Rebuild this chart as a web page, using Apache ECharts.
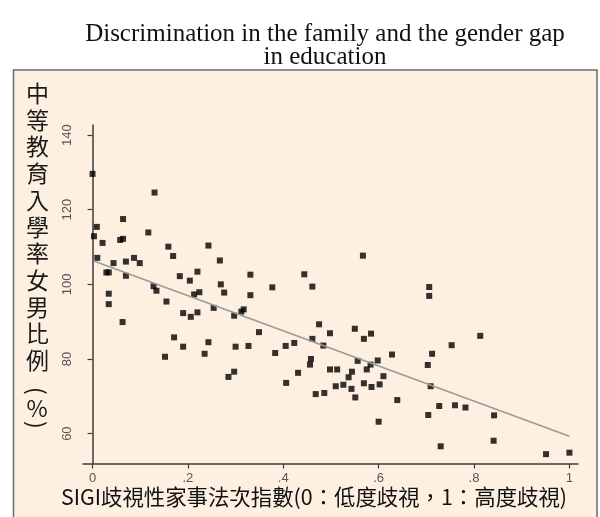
<!DOCTYPE html>
<html>
<head>
<meta charset="utf-8">
<script src="https://cdn.jsdelivr.net/npm/echarts@6/dist/echarts.min.js"></script>
<style>
  html, body { margin: 0; padding: 0; background: #fff; }
  #main { width: 600px; height: 517px; }
</style>
</head>
<body>
<div id="main"></div>
<script>
// SIGI index (x) and secondary enrolment ratio girls/boys in % (y)
var sigi = [
  0.000, 0.130, 0.064, 0.009, 0.003, 0.117, 0.064, 0.058, 0.021, 0.159,
  0.243, 0.169, 0.010, 0.087, 0.267, 0.044, 0.070, 0.099, 0.029, 0.034,
  0.220, 0.070, 0.183, 0.204, 0.331, 0.444, 0.461, 0.269, 0.276, 0.377,
  0.331, 0.128, 0.134, 0.034, 0.213, 0.224, 0.034, 0.063, 0.155, 0.190,
  0.206, 0.220, 0.254, 0.297, 0.312, 0.317, 0.349, 0.171, 0.190, 0.152,
  0.243, 0.235, 0.300, 0.327, 0.383, 0.405, 0.423, 0.406, 0.431, 0.297,
  0.285, 0.475, 0.461, 0.458, 0.456, 0.468, 0.486, 0.498, 0.484, 0.498,
  0.567, 0.706, 0.706, 0.550, 0.569, 0.584, 0.556, 0.598, 0.583, 0.575,
  0.513, 0.544, 0.537, 0.526, 0.510, 0.543, 0.551, 0.569, 0.585, 0.602,
  0.610, 0.628, 0.639, 0.600, 0.712, 0.703, 0.709, 0.704, 0.727, 0.760,
  0.782, 0.753, 0.813, 0.842, 0.730, 0.841, 0.951, 1.000
];
var ratio = [
  129.6, 124.6, 117.5, 115.4, 112.9, 113.9, 112.2, 111.9, 111.1, 110.1,
  110.4, 107.6, 107.1, 107.1, 106.4, 105.7, 106.1, 105.7, 103.2, 103.2,
  103.4, 102.3, 102.2, 101.0, 102.6, 102.7, 99.4, 100.0, 97.8, 99.2,
  97.1, 99.5, 98.3, 97.5, 97.3, 97.9, 94.7, 89.9, 95.4, 92.3,
  91.3, 92.5, 93.7, 91.6, 92.7, 93.3, 87.2, 85.8, 83.3, 80.6,
  84.5, 81.4, 83.3, 83.5, 81.6, 83.5, 84.3, 73.6, 76.3, 76.6,
  75.2, 89.3, 85.4, 80.0, 78.5, 70.6, 70.9, 86.9, 83.6, 77.2,
  107.7, 99.3, 96.9, 88.1, 85.4, 86.8, 79.5, 79.6, 78.5, 77.2,
  77.2, 76.6, 75.1, 73.1, 72.7, 72.0, 69.7, 73.5, 72.5, 73.2,
  75.4, 81.2, 69.0, 63.2, 81.4, 78.4, 72.7, 65.0, 67.4, 67.6,
  67.0, 83.7, 86.2, 64.9, 56.6, 58.1, 54.5, 54.9
];
// fitted line endpoints
var fitX = [0.004, 1.0];
var fitY = [106.2, 59.3];
var xTicks = [0, 0.2, 0.4, 0.6, 0.8, 1];
var yTicks = [60, 80, 100, 120, 140];

var titleText = 'Discrimination in the family and the gender gap\nin education';
var yName = ['中', '等', '教', '育', '入', '學', '率', '女', '男', '比', '例'];
var xName = 'SIGI歧視性家事法次指數(0：低度歧視，1：高度歧視)';

var points = sigi.map(function (x, i) { return [x, ratio[i]]; });
var fit = fitX.map(function (x, i) { return [x, fitY[i]]; });

var myChart = echarts.init(document.getElementById('main'));

var axisCol = '#3c3c3c';
var cjk = '"Noto Sans CJK TC", "Noto Sans CJK SC", sans-serif';

myChart.setOption({
  backgroundColor: '#fff',
  animation: false,
  title: {
    text: titleText,
    left: 320,
    textAlign: 'center',
    top: 18,
    textStyle: {
      fontFamily: '"Liberation Serif", "Times New Roman", serif',
      fontWeight: 'normal',
      fontSize: 25,
      lineHeight: 23,
      color: '#111'
    }
  },
  graphic: [
    {
      type: 'rect',
      z: -10,
      shape: { x: 13.5, y: 70, width: 583.5, height: 460 },
      style: { fill: '#fdf0e1', stroke: '#6a6a6a', lineWidth: 1.5 }
    },
    {
      type: 'text',
      left: 26,
      top: 80,
      style: {
        text: yName.join('\n'),
        font: '23px ' + cjk,
        lineHeight: 26.7,
        fill: '#1a1a1a',
        align: 'center'
      }
    },
    // rotated parentheses and percent sign below the vertical axis name
    {
      type: 'text',
      x: 37, y: 391,
      rotation: -Math.PI / 2,
      style: { text: '(', font: '23px ' + cjk, fill: '#1a1a1a', align: 'center', verticalAlign: 'middle' }
    },
    {
      type: 'text',
      x: 37, y: 408,
      style: { text: '%', font: '23px ' + cjk, fill: '#1a1a1a', align: 'center', verticalAlign: 'middle' }
    },
    {
      type: 'text',
      x: 37, y: 425,
      rotation: -Math.PI / 2,
      style: { text: ')', font: '23px ' + cjk, fill: '#1a1a1a', align: 'center', verticalAlign: 'middle' }
    },
    {
      type: 'text',
      left: 61,
      top: 486,
      style: {
        text: xName,
        font: '21.4px ' + cjk,
        fill: '#111'
      }
    }
  ],
  grid: { left: 83, top: 125, width: 495, height: 338.5, containLabel: false },
  xAxis: {
    type: 'value',
    min: -0.02,
    max: 1.018,
    splitLine: { show: false },
    axisLine: { lineStyle: { color: axisCol, width: 1.5 } },
    axisTick: { show: true, length: 5, customValues: xTicks, lineStyle: { color: axisCol, width: 1.2 } },
    axisLabel: {
      customValues: xTicks,
      margin: 8,
      color: '#555',
      fontSize: 13,
      fontFamily: '"Liberation Sans", Arial, sans-serif',
      formatter: function (v) {
        if (v === 0) return '0';
        if (v === 1) return '1';
        return String(+v.toFixed(1)).replace('0.', '.');
      }
    }
  },
  yAxis: {
    type: 'value',
    min: 52,
    max: 142.7,
    splitLine: { show: false },
    axisLine: { lineStyle: { color: axisCol, width: 1.5 } },
    axisTick: { show: true, length: 5, customValues: yTicks, lineStyle: { color: axisCol, width: 1.2 } },
    axisLabel: {
      customValues: yTicks,
      rotate: 90,
      margin: 9,
      color: '#555',
      fontSize: 13,
      fontFamily: '"Liberation Sans", Arial, sans-serif'
    }
  },
  series: [
    {
      type: 'scatter',
      data: points,
      symbol: 'rect',
      symbolSize: 6,
      itemStyle: { color: '#000' },
      z: 2
    },
    {
      type: 'line',
      data: fit,
      symbol: 'none',
      lineStyle: { color: '#9a9a9a', width: 1.5 },
      z: 3
    }
  ]
});
</script>
</body>
</html>
